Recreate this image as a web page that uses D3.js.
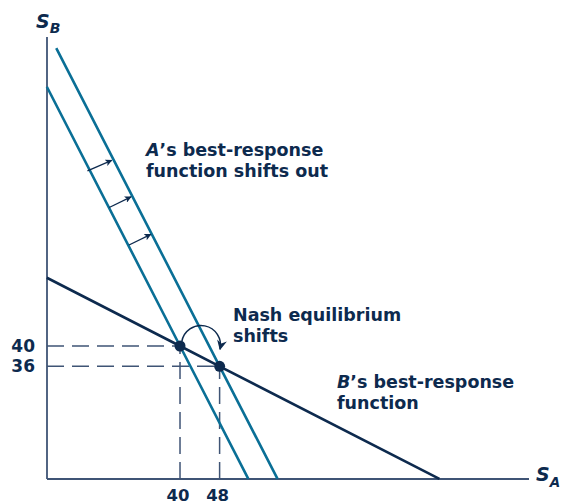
<!DOCTYPE html>
<html>
<head>
<meta charset="utf-8">
<script src="https://cdn.jsdelivr.net/npm/d3@7"></script>
<style>
  html, body { margin: 0; padding: 0; background: #fff; }
  svg { display: block; }
  text { font-family: "DejaVu Sans", "Open Sans", sans-serif; font-weight: 700; fill: #0d2a4e; }
</style>
</head>
<body>
<svg id="chart" width="562" height="504"></svg>
<script>
// ---- data (S_A, S_B in data units) ----
const aBefore = [{sa: 13.1, sb: 91.1}, {sa: 40, sb: 40}, {sa: 53.8, sb: 13.8}];   // A's original best response
const aAfter  = [{sa: 15.0, sb: 98.7}, {sa: 48, sb: 36}, {sa: 59.7, sb: 13.8}];   // A's shifted best response
const bLine   = [{sa: 13.1, sb: 53.45}, {sa: 40, sb: 40}, {sa: 48, sb: 36}, {sa: 92.4, sb: 13.8}]; // B's best response
const equilibria = [{sa: 40, sb: 40}, {sa: 48, sb: 36}];
const shiftArrows = [
  {from: [21.3, 74.5], to: [26.2, 76.6]},
  {from: [25.7, 67.3], to: [30.1, 69.4]},
  {from: [29.7, 59.9], to: [34.1, 62.0]}
];
const xTicks = [40, 48];
const yTicks = [40, 36];
const xDomain = [13.13, 110.5];
const yDomain = [13.79, 100.9];

// ---- scales ----
const svg = d3.select("#chart");
const x = d3.scaleLinear().domain(xDomain).range([47, 529]);
const y = d3.scaleLinear().domain(yDomain).range([479, 37]);

const navy = "#0d2a4e";
const teal = "#0a6f96";
const axisCol = "#3f5475";

// markers
const defs = svg.append("defs");
defs.append("marker").attr("id", "smallHead")
  .attr("viewBox", "0 0 10 10").attr("refX", 9).attr("refY", 5)
  .attr("markerWidth", 7).attr("markerHeight", 7).attr("markerUnits", "userSpaceOnUse")
  .attr("orient", "auto")
  .append("path").attr("d", "M0,0 L10,5 L0,10 L2.5,5 Z").attr("fill", navy);
defs.append("marker").attr("id", "bigHead")
  .attr("viewBox", "0 0 10 10").attr("refX", 9).attr("refY", 5)
  .attr("markerWidth", 10).attr("markerHeight", 10).attr("markerUnits", "userSpaceOnUse")
  .attr("orient", "auto")
  .append("path").attr("d", "M0,0 L10,5 L0,10 L3,5 Z").attr("fill", navy);

// ---- axes ----
svg.append("line")
  .attr("x1", x(xDomain[0])).attr("y1", y(yDomain[0]))
  .attr("x2", x(xDomain[0])).attr("y2", y(yDomain[1]))
  .attr("stroke", axisCol).attr("stroke-width", 1.8);
svg.append("line")
  .attr("x1", x(xDomain[0])).attr("y1", y(yDomain[0]))
  .attr("x2", x(xDomain[1])).attr("y2", y(yDomain[0]))
  .attr("stroke", axisCol).attr("stroke-width", 1.8);

// ---- dashed guide lines ----
const guides = svg.append("g").attr("stroke", axisCol).attr("stroke-width", 1.5)
  .attr("stroke-dasharray", "17,8").attr("fill", "none");
equilibria.forEach(d => {
  guides.append("line")
    .attr("x1", x(xDomain[0])).attr("y1", y(d.sb))
    .attr("x2", x(d.sa)).attr("y2", y(d.sb));
  guides.append("line")
    .attr("x1", x(d.sa)).attr("y1", y(yDomain[0]))
    .attr("x2", x(d.sa)).attr("y2", y(d.sb));
});

// ---- best-response lines ----
const line = d3.line().x(d => x(d.sa)).y(d => y(d.sb));
svg.append("path").datum(aBefore).attr("d", line)
  .attr("fill", "none").attr("stroke", teal).attr("stroke-width", 2.6);
svg.append("path").datum(aAfter).attr("d", line)
  .attr("fill", "none").attr("stroke", teal).attr("stroke-width", 2.6);
svg.append("path").datum(bLine).attr("d", line)
  .attr("fill", "none").attr("stroke", navy).attr("stroke-width", 2.6);

// ---- shift arrows ----
svg.selectAll(".shift").data(shiftArrows).join("line")
  .attr("class", "shift")
  .attr("x1", d => x(d.from[0])).attr("y1", d => y(d.from[1]))
  .attr("x2", d => x(d.to[0])).attr("y2", d => y(d.to[1]))
  .attr("stroke", navy).attr("stroke-width", 1.3)
  .attr("marker-end", "url(#smallHead)");

// ---- curved arrow between equilibria ----
const p1 = [x(equilibria[0].sa), y(equilibria[0].sb)];
const p2 = [x(equilibria[1].sa), y(equilibria[1].sb)];
const cx = (p1[0] + p2[0]) / 2 + 1.2, cy = p1[1] - 1, r = 19.5;
const arcPath = d3.path();
const a0 = Math.PI + 0.17, a1 = 2 * Math.PI + 0.22;
arcPath.moveTo(cx + r * Math.cos(a0), cy + r * Math.sin(a0));
arcPath.arc(cx, cy, r, a0, a1, false);
svg.append("path").attr("d", arcPath.toString())
  .attr("fill", "none").attr("stroke", navy).attr("stroke-width", 1.5)
  .attr("marker-end", "url(#bigHead)");

// ---- equilibrium points ----
svg.selectAll(".eq").data(equilibria).join("circle")
  .attr("class", "eq")
  .attr("cx", d => x(d.sa)).attr("cy", d => y(d.sb)).attr("r", 5.5)
  .attr("fill", navy);

// ---- tick labels ----
svg.selectAll(".xt").data(xTicks).join("text")
  .attr("class", "xt")
  .attr("x", d => x(d) - 2).attr("y", 501)
  .attr("text-anchor", "middle").attr("font-size", 16.5).text(d => d);
svg.selectAll(".yt").data(yTicks).join("text")
  .attr("class", "yt")
  .attr("x", 35).attr("y", d => y(d) + 6)
  .attr("text-anchor", "end").attr("font-size", 17).text(d => d);

// ---- axis titles ----
const sb = svg.append("text").attr("x", 36).attr("y", 28).attr("font-size", 19);
sb.append("tspan").attr("font-style", "italic").text("S");
sb.append("tspan").attr("font-style", "italic").attr("font-size", 14).attr("dy", 5).text("B");
const sa = svg.append("text").attr("x", 536).attr("y", 481).attr("font-size", 19);
sa.append("tspan").attr("font-style", "italic").text("S");
sa.append("tspan").attr("font-style", "italic").attr("font-size", 13.5).attr("dy", 6).text("A");

// ---- annotations ----
function label(xp, yp, lines, italicFirst) {
  const t = svg.append("text").attr("x", xp).attr("y", yp).attr("font-size", 17.5);
  lines.forEach((ln, i) => {
    const ts = t.append("tspan").attr("x", xp).attr("dy", i === 0 ? 0 : 21);
    if (i === 0 && italicFirst) {
      ts.append("tspan").attr("font-style", "italic").text(italicFirst);
      ts.append("tspan").text(ln);
    } else {
      ts.text(ln);
    }
  });
}
label(146, 156, ["\u2019s best-response", "function shifts out"], "A");
label(233, 321, ["Nash equilibrium", "shifts"]);
label(337, 388, ["\u2019s best-response", "function"], "B");
</script>
</body>
</html>
